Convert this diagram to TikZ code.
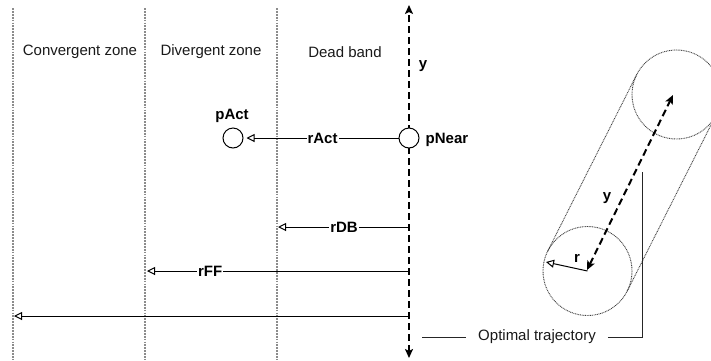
\documentclass[tikz,border=0pt]{standalone}
\usepackage{fontspec}
\setmainfont{Liberation Sans}
\usetikzlibrary{arrows.meta}
\begin{document}
\begin{tikzpicture}[x=1pt,y=-1pt,
  zoneline/.style={draw=black!45, line width=1.8pt, dash pattern=on 1.8pt off 1.1pt},
  axisline/.style={line width=2pt, dash pattern=on 7pt off 4pt,
    {Stealth[length=9pt,width=8pt,inset=2pt]}-{Stealth[length=9pt,width=8pt,inset=2pt]}},
  rline/.style={line width=1pt, -{Triangle[open,length=8pt,width=8pt]}},
  lbl/.style={font=\fontsize{15}{18}\selectfont\bfseries, fill=white, inner sep=1pt},
  plainlbl/.style={font=\fontsize{15}{18}\selectfont\bfseries, inner sep=1pt},
  zonelbl/.style={font=\fontsize{15}{18}\selectfont, text=black!90},
  ptc/.style={circle, draw, fill=white, line width=1pt, minimum size=20pt, inner sep=0pt},
  cyl/.style={draw=black!75, line width=0.9pt, dash pattern=on 0.9pt off 0.8pt},
  link/.style={line width=1pt, draw=black!85}]
\useasboundingbox (0,0) rectangle (711,360);
\clip (0,0) rectangle (711,360);

% zone separators
\draw[zoneline] (13,8) -- (13,360);
\draw[zoneline] (145,8) -- (145,360);
\draw[zoneline] (277,8) -- (277,360);

% zone labels
\node[zonelbl] (zc) at (80,52) {Convergent zone};
\node[zonelbl] (zd) at (211,52) {Divergent zone};
\node[zonelbl] (zb) at (345,52) {Dead band};

% axis
\coordinate (axT) at (409,5);
\coordinate (axB) at (409,358);
\draw[axisline] (axB) -- (axT);
\node[plainlbl] (ylbl) at (423,66) {y};

% points
\node[ptc] (pNear) at (409,138) {};
\node[ptc] (pAct) at (233,138) {};
\node[plainlbl] (pNearL) at (447,140) {pNear};
\node[plainlbl] (pActL) at (232,116) {pAct};

% horizontal arrows
\draw[rline, shorten >=3pt] (pNear.west) -- node[lbl, pos=0.49] {rAct} (pAct.east);

\coordinate (dbS) at (409,227);
\coordinate (dbE) at (278,227);
\draw[rline] (dbS) -- node[lbl, pos=0.496] {rDB} (dbE);

\coordinate (ffS) at (409,271);
\coordinate (ffE) at (147,271);
\draw[rline] (ffS) -- node[lbl, pos=0.759] {rFF} (ffE);

\coordinate (cvS) at (409,316);
\coordinate (cvE) at (14,316);
\draw[rline] (cvS) -- (cvE);

% cylinder
\coordinate (cb) at (587.5,271);
\coordinate (ct) at (676.5,94.5);
\draw[cyl] (cb) circle (44.5);
\draw[cyl] (ct) circle (44.5);
\draw[cyl] (547.8,250.9) -- (636.8,74.4);
\draw[cyl] (627.2,291.1) -- (716.2,114.6);

\coordinate (yb) at (587,270);
\coordinate (yt) at (673,95);
\draw[axisline] (yb) -- (yt);
\node[plainlbl] (ylbl2) at (607,198) {y};

\coordinate (rE) at (546,262);
\draw[rline] (cb) -- (rE);
\node[plainlbl] (rlbl) at (577,258) {r};

% optimal trajectory
\node[zonelbl, inner xsep=12pt] (opt) at (537,337) {Optimal trajectory};
\coordinate (optL) at (422,337);
\coordinate (optT) at (642,172);
\draw[link] (optL) -- (opt.west);
\draw[link] (opt.east) -| (optT);
\end{tikzpicture}
\end{document}
